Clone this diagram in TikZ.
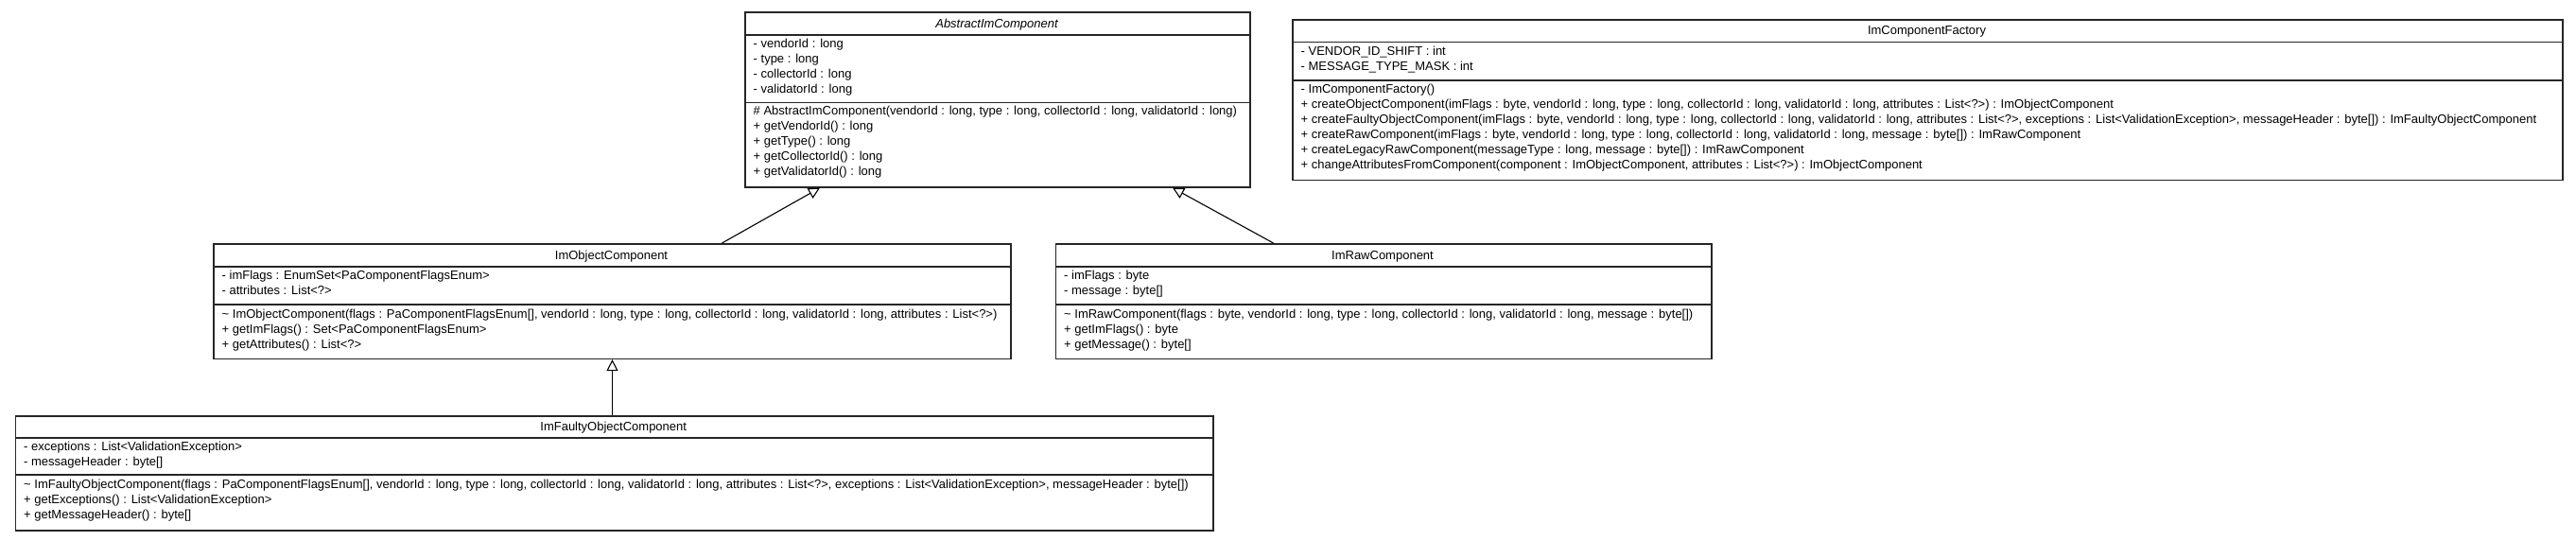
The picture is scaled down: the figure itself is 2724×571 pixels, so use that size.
\documentclass[tikz,border=0pt]{standalone}
\usepackage{fontspec}
\setmainfont{Liberation Sans}
\usetikzlibrary{arrows.meta}
\tikzset{
  classbox/.style={draw=black!85, line width=1.6pt, fill=white, inner sep=0pt, anchor=north west},
  sepline/.style={draw=black!85, line width=1.6pt},
  member/.style={font=\fontsize{13}{16}\selectfont, align=left, inner sep=0pt, anchor=north west, execute at begin node=\strut},
  ctitle/.style={font=\fontsize{13}{16}\selectfont, inner sep=0pt, anchor=base},
  gen/.style={draw=black, line width=1.1pt, -{Triangle[open, length=12pt, width=12pt, fill=white]}}
}
\begin{document}
\begin{tikzpicture}[x=1pt, y=-1pt]
\useasboundingbox[fill=white] (0,0) rectangle (2724,571);

% AbstractImComponent
\node[classbox, minimum width=534pt, minimum height=185pt] (abs) at (787,12) {};
\draw[sepline] (787,37) -- (1321,37);
\draw[sepline] (787,108.5) -- (1321,108.5);
\node[ctitle] (abs-t) at (1054,29) {\itshape AbstractImComponent};
\node[member] (abs-a) at (796.5,41) {- vendorId : long\\- type : long\\- collectorId : long\\- validatorId : long};
\node[member] (abs-m) at (796.5,111.8) {\# AbstractImComponent(vendorId : long, type : long, collectorId : long, validatorId : long)\\+ getVendorId() : long\\+ getType() : long\\+ getCollectorId() : long\\+ getValidatorId() : long};

% ImComponentFactory
\node[classbox, minimum width=1343pt, minimum height=169.5pt] (fac) at (1366,20) {};
\draw[sepline] (1366,44.3) -- (2709,44.3);
\draw[sepline] (1366,85) -- (2709,85);
\node[ctitle] (fac-t) at (2037.5,36.7) {ImComponentFactory};
\node[member] (fac-a) at (1375.5,48.6) {- VENDOR\_ID\_SHIFT : int\\- MESSAGE\_TYPE\_MASK : int};
\node[member] (fac-m) at (1375.5,89.3) {- ImComponentFactory()\\+ createObjectComponent(imFlags : byte, vendorId : long, type : long, collectorId : long, validatorId : long, attributes : List<?>) : ImObjectComponent\\+ createFaultyObjectComponent(imFlags : byte, vendorId : long, type : long, collectorId : long, validatorId : long, attributes : List<?>, exceptions : List<ValidationException>, messageHeader : byte[]) : ImFaultyObjectComponent\\+ createRawComponent(imFlags : byte, vendorId : long, type : long, collectorId : long, validatorId : long, message : byte[]) : ImRawComponent\\+ createLegacyRawComponent(messageType : long, message : byte[]) : ImRawComponent\\+ changeAttributesFromComponent(component : ImObjectComponent, attributes : List<?>) : ImObjectComponent};

% ImObjectComponent
\node[classbox, minimum width=843pt, minimum height=121.5pt] (obj) at (225,257) {};
\draw[sepline] (225,282) -- (1068,282);
\draw[sepline] (225,322) -- (1068,322);
\node[ctitle] (obj-t) at (646.5,274) {ImObjectComponent};
\node[member] (obj-a) at (234.5,286.3) {- imFlags : EnumSet<PaComponentFlagsEnum>\\- attributes : List<?>};
\node[member] (obj-m) at (234.5,326.5) {\textasciitilde{} ImObjectComponent(flags : PaComponentFlagsEnum[], vendorId : long, type : long, collectorId : long, validatorId : long, attributes : List<?>)\\+ getImFlags() : Set<PaComponentFlagsEnum>\\+ getAttributes() : List<?>};

% ImRawComponent
\node[classbox, minimum width=693.5pt, minimum height=121.5pt] (raw) at (1115.5,257) {};
\draw[sepline] (1115.5,282) -- (1809,282);
\draw[sepline] (1115.5,322) -- (1809,322);
\node[ctitle] (raw-t) at (1462,274) {ImRawComponent};
\node[member] (raw-a) at (1125,286.3) {- imFlags : byte\\- message : byte[]};
\node[member] (raw-m) at (1125,326.5) {\textasciitilde{} ImRawComponent(flags : byte, vendorId : long, type : long, collectorId : long, validatorId : long, message : byte[])\\+ getImFlags() : byte\\+ getMessage() : byte[]};

% ImFaultyObjectComponent
\node[classbox, minimum width=1266.5pt, minimum height=121pt] (fau) at (15.5,439) {};
\draw[sepline] (15.5,462.7) -- (1282,462.7);
\draw[sepline] (15.5,501.7) -- (1282,501.7);
\node[ctitle] (fau-t) at (648.7,455.5) {ImFaultyObjectComponent};
\node[member] (fau-a) at (25,466.5) {- exceptions : List<ValidationException>\\- messageHeader : byte[]};
\node[member] (fau-m) at (25,507.1) {\textasciitilde{} ImFaultyObjectComponent(flags : PaComponentFlagsEnum[], vendorId : long, type : long, collectorId : long, validatorId : long, attributes : List<?>, exceptions : List<ValidationException>, messageHeader : byte[])\\+ getExceptions() : List<ValidationException>\\+ getMessageHeader() : byte[]};

% generalisations
\path (obj.north west) ++(538.5,0) coordinate (objtop);
\path (abs.south west) ++(80,0) coordinate (absl);
\path (raw.north west) ++(231,0) coordinate (rawtop);
\path (abs.south west) ++(453,0) coordinate (absr);
\path (fau.north west) ++(632,0) coordinate (fautop);
\path (obj.south west) ++(422.5,0) coordinate (objbot);
\draw[gen] (objtop) -- (absl);
\draw[gen] (rawtop) -- (absr);
\draw[gen] (fautop) -- (objbot);
\end{tikzpicture}
\end{document}
